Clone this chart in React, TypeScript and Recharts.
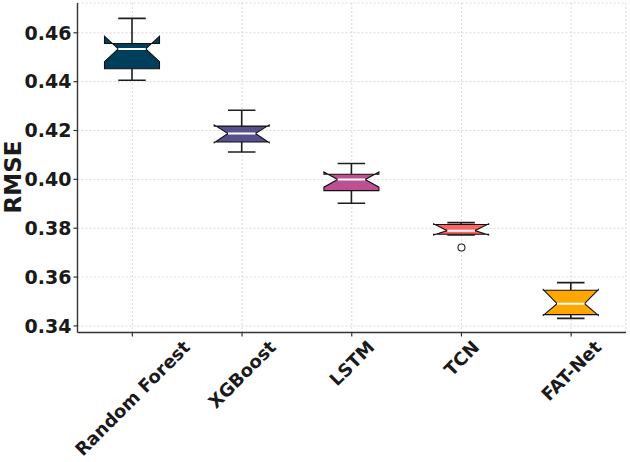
import { ComposedChart, Bar, Scatter, XAxis, YAxis, CartesianGrid } from "recharts"

// RMSE distribution per model (box statistics over repeated runs)
const models = ["Random Forest", "XGBoost", "LSTM", "TCN", "FAT-Net"]
const whiskerLow = [0.4406, 0.4112, 0.3902, 0.3772, 0.3431]
const q1 = [0.4453, 0.4153, 0.3954, 0.3775, 0.3446]
const median = [0.4534, 0.4188, 0.3999, 0.379, 0.3491]
const q3 = [0.4556, 0.4218, 0.4021, 0.3815, 0.3546]
const whiskerHigh = [0.4659, 0.4283, 0.4065, 0.3823, 0.3577]
const notchLow = [0.4482, 0.415, 0.3968, 0.3772, 0.3443]
const notchHigh = [0.4586, 0.4223, 0.403, 0.3818, 0.3549]
const outliers: (number | null)[] = [null, null, null, 0.3721, null]

const yTicks = [0.34, 0.36, 0.38, 0.4, 0.42, 0.44, 0.46]
const boxColors = ["#003f5c", "#58508d", "#bc5090", "#ff6361", "#ffa600"]

const data = models.map((name, i) => ({
  name,
  range: [whiskerLow[i], whiskerHigh[i]],
  q1: q1[i],
  median: median[i],
  q3: q3[i],
  notchLow: notchLow[i],
  notchHigh: notchHigh[i],
  outlier: outliers[i],
  color: boxColors[i],
}))

const FONT = "'DejaVu Sans', sans-serif"
const TEXT = "#1a1a1a"

let ctx: CanvasRenderingContext2D | null = null
function textWidth(s: string, font: string) {
  if (!ctx) ctx = document.createElement("canvas").getContext("2d")
  if (!ctx) return s.length * 10
  ctx.font = font
  return ctx.measureText(s).width
}

// notched box drawn matplotlib-style; the bar's pixel extent gives the y mapping
function NotchedBox(props: any) {
  const { x, y, width, height, payload } = props
  if (payload == null) return null
  const [lo, hi] = payload.range
  const top = Math.min(y, y + height)
  const h = Math.abs(height)
  const py = (v: number) => top + ((hi - v) / (hi - lo)) * h
  const cx = x + width / 2
  const left = x
  const right = x + width
  const nl = cx - width * 0.25
  const nr = cx + width * 0.25
  const pts = [
    [left, payload.q1],
    [right, payload.q1],
    [right, payload.notchLow],
    [nr, payload.median],
    [right, payload.notchHigh],
    [right, payload.q3],
    [left, payload.q3],
    [left, payload.notchHigh],
    [nl, payload.median],
    [left, payload.notchLow],
  ]
  const d = pts.map(([px, v], i) => `${i ? "L" : "M"}${px},${py(v)}`).join(" ") + " Z"
  const wc = "#1e1e1e"
  return (
    <g>
      <line x1={cx} x2={cx} y1={py(payload.q3)} y2={py(hi)} stroke={wc} strokeWidth={1.6} />
      <line x1={cx} x2={cx} y1={py(payload.q1)} y2={py(lo)} stroke={wc} strokeWidth={1.6} />
      <line x1={nl} x2={nr} y1={py(hi)} y2={py(hi)} stroke={wc} strokeWidth={1.6} />
      <line x1={nl} x2={nr} y1={py(lo)} y2={py(lo)} stroke={wc} strokeWidth={1.6} />
      <path d={d} fill={payload.color} stroke="#111" strokeWidth={1.1} strokeLinejoin="miter" />
      <line x1={nl} x2={nr} y1={py(payload.median)} y2={py(payload.median)} stroke="#fff" strokeWidth={2} />
    </g>
  )
}

function OutlierDot(props: any) {
  const { cx, cy, payload } = props
  if (payload == null || payload.outlier == null || !Number.isFinite(cy)) return null
  return <circle cx={cx} cy={cy} r={3.5} fill="#fff" stroke="#222" strokeWidth={1.1} />
}

function XTick(props: any) {
  const { x, y, payload } = props
  const size = 18
  const font = `bold ${size}px ${FONT}`
  const w = textWidth(payload.value, font)
  const cy = y + 1 + (w + size) / (2 * Math.SQRT2)
  return (
    <text
      x={x}
      y={cy}
      transform={`rotate(-45 ${x} ${cy})`}
      textAnchor="middle"
      dominantBaseline="central"
      fontFamily={FONT}
      fontWeight="bold"
      fontSize={size}
      fill={TEXT}
    >
      {payload.value}
    </text>
  )
}

function YLabel() {
  return (
    <text
      x={13}
      y={177}
      transform="rotate(-90 13 177)"
      textAnchor="middle"
      dominantBaseline="central"
      fontFamily={FONT}
      fontWeight="bold"
      fontSize={23}
      fill={TEXT}
    >
      RMSE
    </text>
  )
}

export default function App() {
  return (
    <div style={{ position: "absolute", left: 0, top: 0, background: "#fff" }}>
      <ComposedChart
        width={630}
        height={462}
        data={data}
        margin={{ top: 3, right: 4, left: 0, bottom: 0 }}
      >
        <CartesianGrid stroke="#cfcfcf" strokeDasharray="2 2" strokeWidth={0.8} />
        <XAxis
          dataKey="name"
          type="category"
          height={129.5}
          interval={0}
          tickSize={4}
          tickMargin={0}
          tick={<XTick />}
          axisLine={{ stroke: "#333", strokeWidth: 1.4 }}
          tickLine={{ stroke: "#333", strokeWidth: 1.2 }}
        />
        <YAxis
          type="number"
          width={77.5}
          domain={[0.3373, 0.4722]}
          ticks={yTicks}
          interval={0}
          tickSize={4}
          tickMargin={2}
          tickFormatter={(v: number) => v.toFixed(2)}
          tick={{ fontFamily: FONT, fontWeight: "bold", fontSize: 19, fill: TEXT }}
          axisLine={{ stroke: "#333", strokeWidth: 1.4 }}
          tickLine={{ stroke: "#333", strokeWidth: 1.2 }}
          allowDataOverflow
          label={<YLabel />}
        />
        <Bar dataKey="range" barSize={55} shape={<NotchedBox />} isAnimationActive={false} />
        <Scatter dataKey="outlier" shape={<OutlierDot />} isAnimationActive={false} />
      </ComposedChart>
    </div>
  )
}
